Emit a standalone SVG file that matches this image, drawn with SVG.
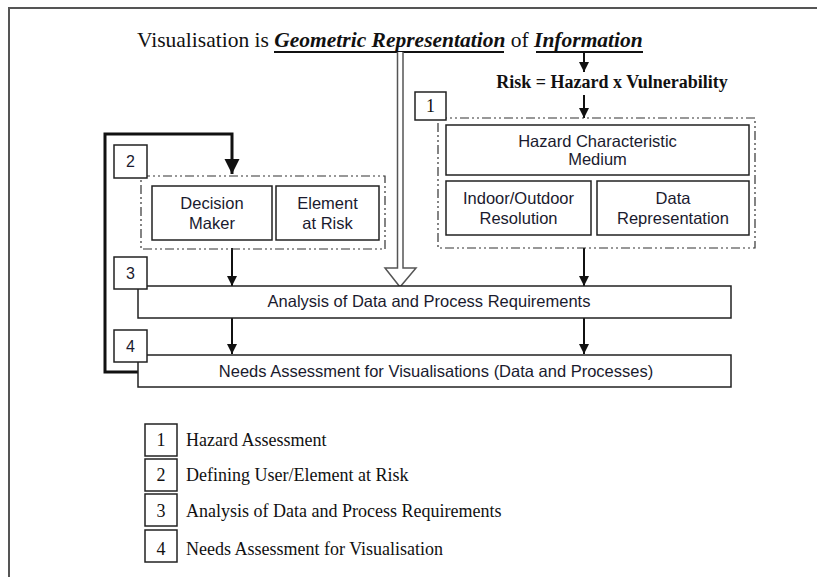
<svg xmlns="http://www.w3.org/2000/svg" width="817" height="577" viewBox="0 0 817 577">
  <style>
    .serif { font-family: "Liberation Serif", "Times New Roman", serif; fill: #111; }
    .sans { font-family: "Liberation Sans", Arial, sans-serif; fill: #1a1a2e; font-size: 16.5px; }
    .box { fill: #fff; stroke: #222; stroke-width: 1.5; }
    .group { fill: none; stroke: #333; stroke-width: 1.2; stroke-dasharray: 9 3 2 3 2 3; }
    .conn { fill: none; stroke: #111; stroke-width: 2; }
    .num { font-family: "Liberation Sans", Arial, sans-serif; font-size: 16px; fill: #1a1a2e; text-anchor: middle; }
    .numserif { font-family: "Liberation Serif", "Times New Roman", serif; font-size: 18px; fill: #111; text-anchor: middle; }
    .leg { font-family: "Liberation Serif", "Times New Roman", serif; font-size: 18px; fill: #111; }
  </style>
  <defs>
    <marker id="arr" viewBox="0 0 10 10" refX="10" refY="5" markerWidth="5" markerHeight="5.5" markerUnits="strokeWidth" orient="auto">
      <path d="M0,0 L10,5 L0,10 Z" fill="#111"/>
    </marker>
  </defs>

  <!-- page frame -->
  <path d="M9,577 V8 H817" fill="none" stroke="#555" stroke-width="2"/>

  <!-- title -->
  <g id="title">
    <text class="serif" font-size="21.5" x="137" y="47">Visualisation is <tspan font-weight="bold" font-style="italic">Geometric Representation</tspan> of <tspan font-weight="bold" font-style="italic">Information</tspan></text>
    <line x1="274" y1="52" x2="504" y2="52" stroke="#111" stroke-width="2"/>
    <line x1="536" y1="52" x2="643" y2="52" stroke="#111" stroke-width="2"/>
  </g>

  <g id="risk">
    <text class="serif" font-size="18" font-weight="bold" x="612" y="88" text-anchor="middle">Risk = Hazard x Vulnerability</text>
  </g>

  <!-- connectors -->
  <g id="connectors">
    <line class="conn" x1="584" y1="53" x2="584" y2="72" marker-end="url(#arr)"/>
    <line class="conn" x1="584" y1="95" x2="584" y2="118" marker-end="url(#arr)"/>
    <line class="conn" x1="584" y1="248" x2="584" y2="286" marker-end="url(#arr)"/>
    <line class="conn" x1="232" y1="248" x2="232" y2="286" marker-end="url(#arr)"/>
    <line class="conn" x1="232" y1="318" x2="232" y2="354" marker-end="url(#arr)"/>
    <line class="conn" x1="584" y1="318" x2="584" y2="354" marker-end="url(#arr)"/>
    <!-- feedback loop from needs assessment back to user definition -->
    <path d="M138,372 H105 V134 H232 V174" fill="none" stroke="#111" stroke-width="3" marker-end="url(#arr)"/>
    <!-- hollow block arrow from the title -->
    <path d="M397.5,52 V268 H385 L400,287 L416,268 H403 V52" fill="#fff" stroke="#555" stroke-width="1.5"/>
  </g>

  <!-- 1: hazard assessment -->
  <g id="group1">
    <rect class="group" x="438" y="118" width="317" height="130"/>
    <rect class="box" x="415" y="92" width="31" height="28"/>
    <text class="numserif" x="430.5" y="112">1</text>
  </g>
  <g id="hazard-characteristic">
    <rect class="box" x="446" y="125" width="303" height="50"/>
    <text class="sans" x="597.5" y="147" text-anchor="middle">Hazard Characteristic</text>
    <text class="sans" x="597.5" y="165" text-anchor="middle">Medium</text>
  </g>
  <g id="indoor-outdoor">
    <rect class="box" x="446" y="181" width="145" height="54"/>
    <text class="sans" x="518.5" y="204" text-anchor="middle">Indoor/Outdoor</text>
    <text class="sans" x="518.5" y="224" text-anchor="middle">Resolution</text>
  </g>
  <g id="data-representation">
    <rect class="box" x="597" y="181" width="152" height="54"/>
    <text class="sans" x="673" y="204" text-anchor="middle">Data</text>
    <text class="sans" x="673" y="224" text-anchor="middle">Representation</text>
  </g>

  <!-- 2: defining user / element at risk -->
  <g id="group2">
    <rect class="group" x="141" y="176" width="244" height="73"/>
    <rect class="box" x="114" y="145" width="33" height="33"/>
    <text class="num" x="130.5" y="167">2</text>
  </g>
  <g id="decision-maker">
    <rect class="box" x="152" y="186" width="120" height="54"/>
    <text class="sans" x="212" y="209" text-anchor="middle">Decision</text>
    <text class="sans" x="212" y="229" text-anchor="middle">Maker</text>
  </g>
  <g id="element-at-risk">
    <rect class="box" x="276" y="186" width="103" height="54"/>
    <text class="sans" x="327.5" y="209" text-anchor="middle">Element</text>
    <text class="sans" x="327.5" y="229" text-anchor="middle">at Risk</text>
  </g>

  <!-- 3: analysis -->
  <g id="analysis">
    <rect class="box" x="138" y="286" width="593" height="32"/>
    <text class="sans" x="429" y="307" text-anchor="middle">Analysis of Data and Process Requirements</text>
    <rect class="box" x="114" y="257" width="33" height="32"/>
    <text class="num" x="130.5" y="279">3</text>
  </g>

  <!-- 4: needs assessment -->
  <g id="needs">
    <rect class="box" x="138" y="355" width="593" height="32"/>
    <text class="sans" x="436" y="377" text-anchor="middle">Needs Assessment for Visualisations (Data and Processes)</text>
    <rect class="box" x="114" y="330" width="33" height="32"/>
    <text class="num" x="130.5" y="352">4</text>
  </g>

  <!-- legend -->
  <g id="legend">
    <rect class="box" x="145" y="424" width="32" height="32"/>
    <text class="numserif" x="161" y="446">1</text>
    <text class="leg" x="186" y="446">Hazard Assessment</text>
    <rect class="box" x="145" y="459" width="32" height="32"/>
    <text class="numserif" x="161" y="481">2</text>
    <text class="leg" x="186" y="481">Defining User/Element at Risk</text>
    <rect class="box" x="145" y="494" width="32" height="32"/>
    <text class="numserif" x="161" y="517">3</text>
    <text class="leg" x="186" y="517">Analysis of Data and Process Requirements</text>
    <rect class="box" x="145" y="530" width="32" height="32"/>
    <text class="numserif" x="161" y="555">4</text>
    <text class="leg" x="186" y="555">Needs Assessment for Visualisation</text>
  </g>
</svg>
